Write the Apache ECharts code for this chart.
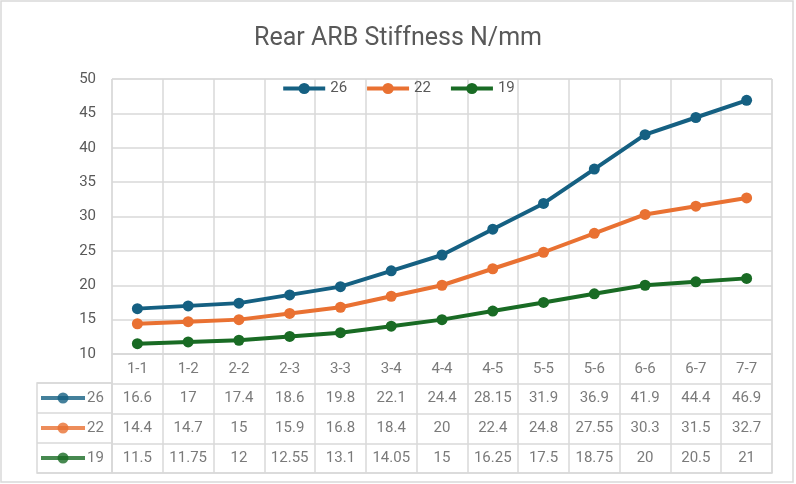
<!DOCTYPE html>
<html>
<head>
<meta charset="utf-8">
<script src="https://cdn.jsdelivr.net/npm/echarts@6/dist/echarts.min.js"></script>
<style>
  html, body { margin: 0; padding: 0; background: #fff; }
  #chart { width: 796px; height: 484px; }
</style>
</head>
<body>
<div id="chart"></div>
<script>
// categories (ARB setting) and stiffness per bar diameter
const categories = ['1-1', '1-2', '2-2', '2-3', '3-3', '3-4', '4-4', '4-5', '5-5', '5-6', '6-6', '6-7', '7-7'];
const seriesNames = ['26', '22', '19'];
const values26 = [16.6, 17, 17.4, 18.6, 19.8, 22.1, 24.4, 28.15, 31.9, 36.9, 41.9, 44.4, 46.9];
const values22 = [14.4, 14.7, 15, 15.9, 16.8, 18.4, 20, 22.4, 24.8, 27.55, 30.3, 31.5, 32.7];
const values19 = [11.5, 11.75, 12, 12.55, 13.1, 14.05, 15, 16.25, 17.5, 18.75, 20, 20.5, 21];
const colors = ['#156082', '#E97132', '#196B24'];

const allValues = [values26, values22, values19];
const textColor = '#595959';
const gridColor = '#d9d9d9';
const font = 'Roboto';

const chart = echarts.init(document.getElementById('chart'));

// table cells: category row + one row per series
const tableRows = ['cat'].concat(seriesNames);
const cellData = [];
categories.forEach((c, i) => {
  cellData.push([i, 'cat', c]);
});
allValues.forEach((vals, s) => {
  vals.forEach((v, i) => {
    cellData.push([i, seriesNames[s], String(v)]);
  });
});

const lineSeries = allValues.map((vals, s) => ({
  name: seriesNames[s],
  type: 'line',
  xAxisIndex: 0,
  yAxisIndex: 0,
  data: vals,
  symbol: 'circle',
  symbolSize: 11,
  lineStyle: { width: 4, color: colors[s] },
  itemStyle: { color: colors[s] },
  z: 5
}));

// row header icons (line + dot) in the table's first column
const headerLines = seriesNames.map((n, s) => ({
  type: 'scatter',
  xAxisIndex: 2,
  yAxisIndex: 2,
  symbol: 'rect',
  symbolSize: [44, 4],
  itemStyle: { color: colors[s] },
  data: [[26, n]],
  label: {
    show: true,
    position: 'right',
    distance: 2,
    formatter: n,
    color: textColor,
    fontSize: 15,
    fontFamily: font
  },
  silent: true
}));
const headerDots = seriesNames.map((n, s) => ({
  type: 'scatter',
  xAxisIndex: 2,
  yAxisIndex: 2,
  symbol: 'circle',
  symbolSize: 11,
  itemStyle: { color: colors[s] },
  data: [[26, n]],
  silent: true
}));

const option = {
  animation: false,
  title: {
    text: 'Rear ARB Stiffness N/mm',
    left: 'center',
    top: 21,
    textStyle: { color: textColor, fontSize: 25, fontWeight: 'normal', fontFamily: font }
  },
  legend: {
    data: seriesNames,
    top: 76,
    left: 'center',
    itemWidth: 42,
    itemHeight: 14,
    itemGap: 18,
    lineStyle: { width: 4 },
    textStyle: { color: textColor, fontSize: 15, fontFamily: font }
  },
  graphic: [{
    type: 'rect',
    shape: { x: 1, y: 1, width: 792, height: 481 },
    style: { fill: null, stroke: gridColor, lineWidth: 1.5 },
    silent: true
  }],
  grid: [
    { left: 112, right: 24, top: 79, bottom: 130, show: true, borderColor: gridColor, borderWidth: 1 },
    { left: 112, right: 24, top: 354, bottom: 11, show: true, borderColor: gridColor, borderWidth: 1.5 },
    { left: 37, width: 75, top: 383, bottom: 11, show: true, borderColor: gridColor, borderWidth: 1.5 }
  ],
  xAxis: [
    {
      type: 'category', gridIndex: 0, data: categories, boundaryGap: true,
      axisLine: { show: false }, axisTick: { show: false }, axisLabel: { show: false },
      splitLine: { show: true, lineStyle: { color: gridColor, width: 1.5 } }
    },
    {
      type: 'category', gridIndex: 1, data: categories.map((c, i) => i), boundaryGap: true,
      axisLine: { show: false }, axisTick: { show: false }, axisLabel: { show: false },
      splitLine: { show: true, lineStyle: { color: gridColor, width: 1.5 } }
    },
    {
      type: 'value', gridIndex: 2, min: 0, max: 75,
      show: false
    }
  ],
  yAxis: [
    {
      type: 'value', gridIndex: 0, min: 10, max: 50, interval: 5,
      axisLine: { show: false }, axisTick: { show: false },
      axisLabel: { color: textColor, fontSize: 15, fontFamily: font, margin: 16 },
      splitLine: { show: true, lineStyle: { color: gridColor, width: 1.5 } }
    },
    {
      type: 'category', gridIndex: 1, data: tableRows, inverse: true,
      axisLine: { show: false }, axisTick: { show: false }, axisLabel: { show: false },
      splitLine: { show: true, lineStyle: { color: gridColor, width: 1.5 } }
    },
    {
      type: 'category', gridIndex: 2, data: seriesNames, inverse: true,
      axisLine: { show: false }, axisTick: { show: false }, axisLabel: { show: false },
      splitLine: { show: true, lineStyle: { color: gridColor, width: 1.5 } }
    }
  ],
  series: lineSeries.concat([
    {
      type: 'scatter',
      xAxisIndex: 1,
      yAxisIndex: 1,
      data: cellData,
      symbolSize: 0,
      silent: true,
      label: {
        show: true,
        position: 'inside',
        formatter: p => p.value[2],
        color: textColor,
        fontSize: 15,
        fontFamily: font
      }
    }
  ]).concat(headerLines).concat(headerDots)
};

chart.setOption(option);
</script>
</body>
</html>
